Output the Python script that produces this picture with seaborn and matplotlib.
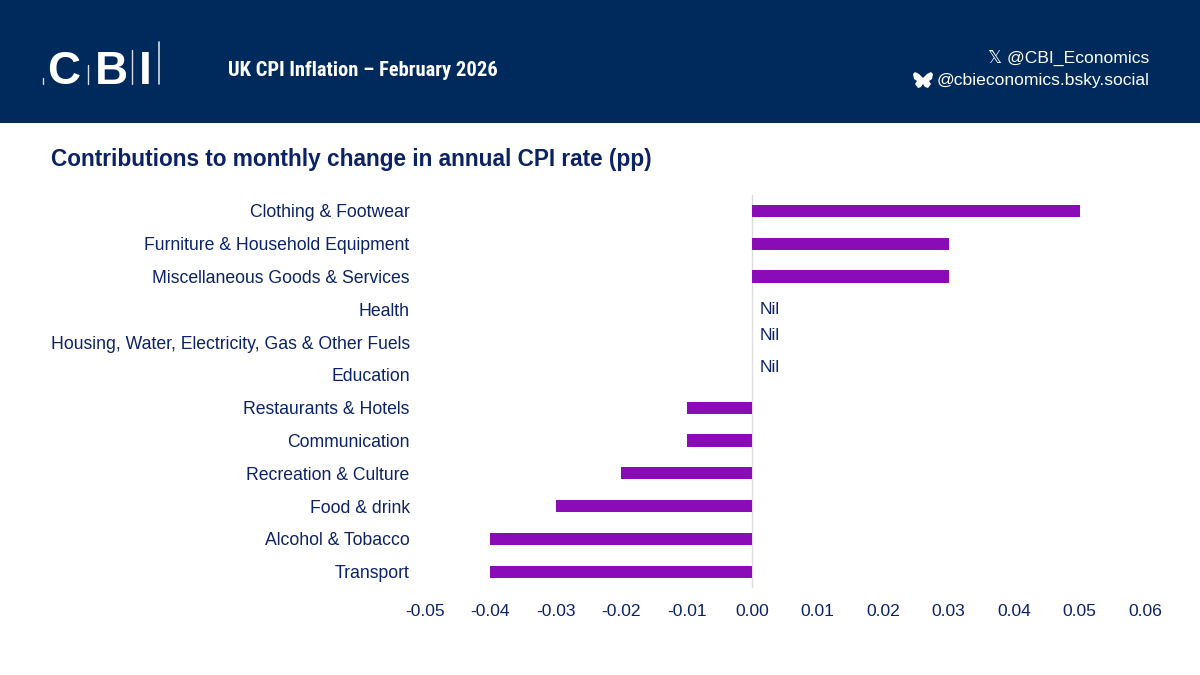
import pandas as pd
import matplotlib.pyplot as plt
import seaborn as sns
from matplotlib.patches import Rectangle, Polygon

categories = ['Clothing & Footwear', 'Furniture & Household Equipment', 'Miscellaneous Goods & Services',
              'Health', 'Housing, Water, Electricity, Gas & Other Fuels', 'Education',
              'Restaurants & Hotels', 'Communication', 'Recreation & Culture',
              'Food & drink', 'Alcohol & Tobacco', 'Transport']
values = [0.05, 0.03, 0.03, 0, 0, 0, -0.01, -0.01, -0.02, -0.03, -0.04, -0.04]
x_ticks = [-0.05, -0.04, -0.03, -0.02, -0.01, 0.00, 0.01, 0.02, 0.03, 0.04, 0.05, 0.06]

NAVY = '#002A5C'
TEXT = '#0B2265'
PURPLE = '#8A0CB6'
W, H = 1200, 675

sns.set_theme(style='white')
plt.rcParams['font.family'] = ['Liberation Sans', 'DejaVu Sans']

df = pd.DataFrame({'category': categories, 'value': values})

fig = plt.figure(figsize=(12, 6.75), dpi=100)
ax = fig.add_axes([425 / W, 1 - 588 / H, 720 / W, 393.5 / H])

sns.barplot(data=df, x='value', y='category', color=PURPLE, width=0.37, saturation=1, linewidth=0, ax=ax)

ax.set_xlim(-0.05, 0.06)
ax.set_ylim(11.5, -0.5)
ax.set_xticks(x_ticks)
ax.set_xticklabels([f'{t:.2f}' for t in x_ticks])
ax.set_xlabel('')
ax.set_ylabel('')
ax.tick_params(axis='x', length=0, pad=11.5, labelsize=12.6, labelcolor=TEXT)
ax.tick_params(axis='y', length=0, pad=11, labelsize=12.7, labelcolor=TEXT)
for side in ['top', 'right', 'bottom', 'left']:
    ax.spines[side].set_visible(False)
ax.axvline(0, color='#DDDDDD', lw=1, zorder=0)

# Nil labels sit a bit off their rows in the original
for y in [3, 3.79, 4.79]:
    ax.text(0.0011, y, 'Nil', color=TEXT, fontsize=12.6, va='center', ha='left')

# header band
fig.patches.append(Rectangle((0, 1 - 123 / H), 1, 123 / H, transform=fig.transFigure, color=NAVY, lw=0, zorder=-1))

def px(x, y):
    return x / W, 1 - y / H

# logo
for x, letter in [(47, 'C'), (94.5, 'B'), (139, 'I')]:
    fig.text(*px(x, 83.5), letter, color='white', fontsize=33, fontweight='bold', va='baseline')
for x, y0, lw in [(43, 78, 1), (88, 65, 1), (132, 50, 1), (159, 42, 1.2)]:
    fig.add_artist(plt.Line2D([x / W, x / W], [1 - 84 / H, 1 - y0 / H], color='#D5DCE6', lw=lw))

fig.text(*px(228, 75.5), 'UK CPI Inflation – February 2026', color='white', fontsize=14.75, fontweight='bold',
         family=['Roboto Condensed', 'Liberation Sans'], va='baseline')

fig.text(*px(1149, 63), '𝕏 @CBI_Economics', color='white', fontsize=12.6, ha='right', va='baseline')
fig.text(*px(1149, 85), '@cbieconomics.bsky.social', color='white', fontsize=12.6, ha='right', va='baseline')
# butterfly icon
wing = [(923, 78), (927, 74), (931, 72), (933, 74), (932, 79), (929, 81), (931, 84), (928, 88), (925, 87), (923, 84)]
mirror = [(2 * 923 - x, y) for x, y in reversed(wing)]
fig.add_artist(Polygon([px(x, y) for x, y in wing + mirror], transform=fig.transFigure, color='white', lw=0))

fig.text(*px(51, 166), 'Contributions to monthly change in annual CPI rate (pp)', color=TEXT, fontsize=16.25,
         fontweight='bold', va='baseline')

fig.savefig('out.png', dpi=100)
